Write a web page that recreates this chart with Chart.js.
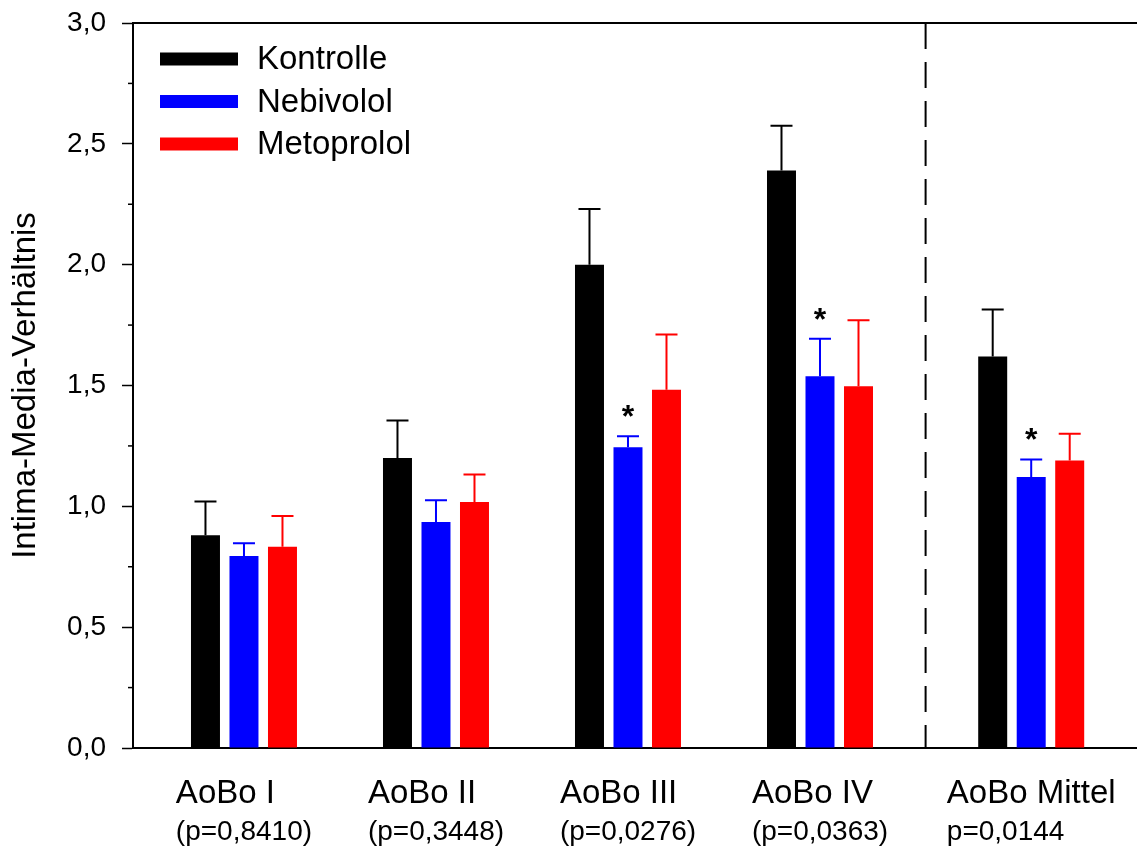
<!DOCTYPE html>
<html>
<head>
<meta charset="utf-8">
<script src="https://cdn.jsdelivr.net/npm/chart.js@4.4.0/dist/chart.umd.min.js"></script>
<style>
  body { margin: 0; background: #fff; }
  #wrap { width: 1137px; height: 847px; }
</style>
</head>
<body>
<div id="wrap"><canvas id="chart"></canvas></div>
<script>
// groups along the x axis
const categories = ['AoBo I', 'AoBo II', 'AoBo III', 'AoBo IV', 'AoBo Mittel'];
const pLabels = ['(p=0,8410)', '(p=0,3448)', '(p=0,0276)', '(p=0,0363)', 'p=0,0144'];
const groupPos = [1, 2, 3, 4, 5.1];

// means and upper error (SEM)
const kontrolle = [0.88, 1.20, 2.00, 2.39, 1.62];
const kontrolleErr = [0.14, 0.155, 0.23, 0.185, 0.195];
const nebivolol = [0.795, 0.935, 1.245, 1.538, 1.121];
const nebivololErr = [0.052, 0.09, 0.045, 0.155, 0.073];
const metoprolol = [0.833, 1.018, 1.482, 1.497, 1.19];
const metoprololErr = [0.127, 0.114, 0.229, 0.273, 0.11];
const nebivololSig = [false, false, true, true, true];

const yTicks = [0, 0.5, 1, 1.5, 2, 2.5, 3];

const FONT = "'Liberation Sans', Arial, Helvetica, sans-serif";

function pts(vals) {
    return vals.map((v, i) => ({ x: groupPos[i], y: v }));
}

const errorBars = {
    id: 'errorBars',
    afterDatasetsDraw(chart) {
        const ctx = chart.ctx;
        const y = chart.scales.y;
        chart.data.datasets.forEach((ds, i) => {
            const meta = chart.getDatasetMeta(i);
            meta.data.forEach((bar, j) => {
                const top = y.getPixelForValue(ds.data[j].y + ds.errors[j]);
                ctx.save();
                ctx.strokeStyle = ds.backgroundColor;
                ctx.lineWidth = 2;
                ctx.beginPath();
                ctx.moveTo(bar.x, bar.y);
                ctx.lineTo(bar.x, top);
                ctx.moveTo(bar.x - 11, top);
                ctx.lineTo(bar.x + 11, top);
                ctx.stroke();
                if (ds.sig && ds.sig[j]) {
                    ctx.fillStyle = '#000';
                    ctx.font = 'bold 32px ' + FONT;
                    ctx.textAlign = 'center';
                    ctx.textBaseline = 'alphabetic';
                    ctx.fillText('*', bar.x, top - 9);
                }
                ctx.restore();
            });
        });
    }
};

const decorations = {
    id: 'decorations',
    afterDraw(chart) {
        const ctx = chart.ctx;
        const area = chart.chartArea;
        const x = chart.scales.x;
        const y = chart.scales.y;
        ctx.save();
        // top frame line
        ctx.strokeStyle = '#000';
        ctx.lineWidth = 2;
        ctx.beginPath();
        ctx.moveTo(area.left, area.top);
        ctx.lineTo(area.right, area.top);
        ctx.stroke();
        // minor ticks
        ctx.lineWidth = 1.5;
        for (let k = 0; k < yTicks.length - 1; k++) {
            const py = y.getPixelForValue((yTicks[k] + yTicks[k + 1]) / 2);
            ctx.beginPath();
            ctx.moveTo(area.left - 5, py);
            ctx.lineTo(area.left, py);
            ctx.stroke();
        }
        // dashed divider before the mean group
        const dx = x.getPixelForValue((groupPos[3] + groupPos[4]) / 2);
        ctx.lineWidth = 2;
        ctx.setLineDash([26, 13]);
        ctx.beginPath();
        ctx.moveTo(dx, area.top);
        ctx.lineTo(dx, area.bottom);
        ctx.stroke();
        ctx.setLineDash([]);
        // category labels
        ctx.fillStyle = '#000';
        ctx.textAlign = 'left';
        ctx.textBaseline = 'alphabetic';
        categories.forEach((c, i) => {
            const cx = x.getPixelForValue(groupPos[i]);
            ctx.font = '33px ' + FONT;
            const w1 = ctx.measureText(c).width;
            ctx.font = '28px ' + FONT;
            const w2 = ctx.measureText(pLabels[i]).width;
            const left = cx - Math.max(w1, w2) / 2;
            ctx.font = '33px ' + FONT;
            ctx.fillText(c, left, area.bottom + 55);
            ctx.font = '28px ' + FONT;
            ctx.fillText(pLabels[i], left, area.bottom + 92);
        });
        // legend
        let ly = area.top + 36;
        chart.data.datasets.forEach(ds => {
            ctx.fillStyle = ds.backgroundColor;
            ctx.fillRect(area.left + 27, ly - 6.5, 78, 13);
            ctx.fillStyle = '#000';
            ctx.font = '33px ' + FONT;
            ctx.textBaseline = 'middle';
            ctx.fillText(ds.label, area.left + 124, ly + 1);
            ly += 42.5;
        });
        ctx.restore();
    }
};

const chart = new Chart(document.getElementById('chart'), {
    type: 'bar',
    data: {
        datasets: [
            { label: 'Kontrolle', data: pts(kontrolle), errors: kontrolleErr, backgroundColor: '#000000' },
            { label: 'Nebivolol', data: pts(nebivolol), errors: nebivololErr, sig: nebivololSig, backgroundColor: '#0000ff' },
            { label: 'Metoprolol', data: pts(metoprolol), errors: metoprololErr, backgroundColor: '#ff0000' }
        ]
    },
    options: {
        responsive: true,
        maintainAspectRatio: false,
        animation: false,
        categoryPercentage: 0.6016,
        barPercentage: 0.753,
        layout: { padding: { top: 23, right: 0, bottom: 0, left: 0 } },
        plugins: {
            legend: { display: false },
            tooltip: { enabled: false }
        },
        scales: {
            x: {
                type: 'linear',
                offset: false,
                min: 0.422,
                max: 5.651,
                afterBuildTicks: scale => { scale.ticks = groupPos.map(v => ({ value: v })); },
                afterFit: scale => { scale.height = 99; },
                ticks: { display: false },
                grid: { display: false, offset: false },
                border: { color: '#000', width: 2 }
            },
            y: {
                min: 0,
                max: 3,
                afterBuildTicks: scale => { scale.ticks = yTicks.map(v => ({ value: v })); },
                afterFit: scale => {
                    scale.width = 133;
                    scale.paddingTop = 0;
                    scale.paddingBottom = 0;
                },
                ticks: {
                    color: '#000',
                    padding: 16,
                    font: { family: FONT, size: 28 },
                    callback: v => v.toFixed(1).replace('.', ',')
                },
                grid: { drawOnChartArea: false, tickLength: 11, tickColor: '#000', tickWidth: 1.5 },
                border: { color: '#000', width: 2 },
                title: {
                    display: true,
                    text: 'Intima-Media-Verhältnis',
                    color: '#000',
                    font: { family: FONT, size: 33 },
                    padding: { top: 6, bottom: 0 }
                }
            }
        }
    },
    plugins: [errorBars, decorations]
});
</script>
</body>
</html>
